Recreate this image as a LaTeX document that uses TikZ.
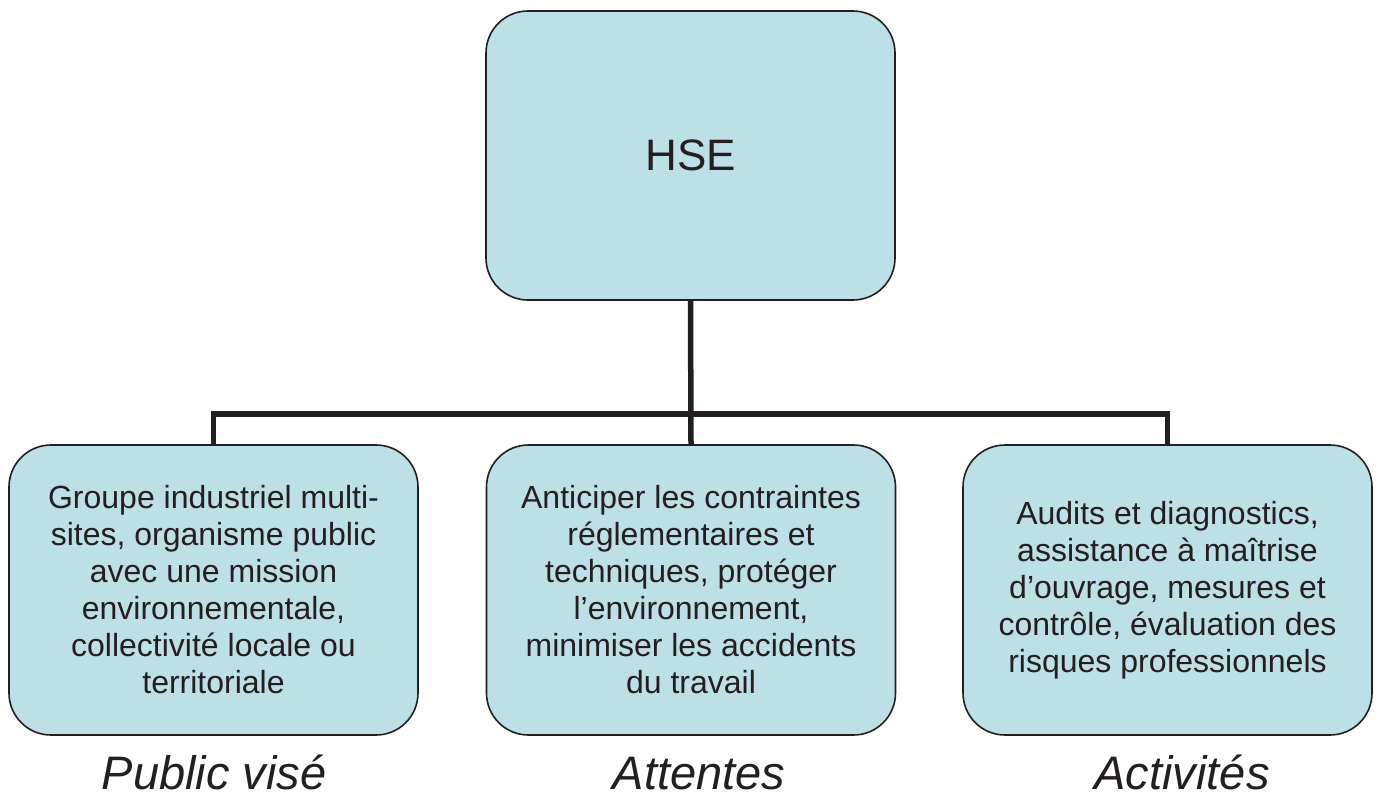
\documentclass[tikz,border=0pt]{standalone}
\usepackage{fontspec}
\setmainfont{Liberation Sans}
\definecolor{boxfill}{HTML}{BCE0E5}
\definecolor{ink}{HTML}{231F20}
\begin{document}
\begin{tikzpicture}[x=1pt,y=-1pt,
  box/.style={draw=ink, line width=1.6pt, fill=boxfill, rounded corners=42pt,
    minimum width=409pt, inner sep=0pt, align=center, text=ink,
    font=\fontsize{32}{37}\selectfont},
  conn/.style={draw=ink, line width=5.5pt, line join=miter},
  caption/.style={text=ink, font=\fontsize{47}{50}\selectfont\itshape, anchor=base,
    inner sep=0pt, text depth=0pt}]
\useasboundingbox (0,0) rectangle (1380,800);
\node[box, minimum height=289pt, font=\fontsize{44}{50}\selectfont] (T) at (690.5,155.5) {HSE};
\node[box, minimum height=290pt] (L) at (213.5,590) {Groupe industriel multi-\\sites, organisme public\\avec une mission\\environnementale,\\collectivité locale ou\\territoriale};
\node[box, minimum height=290pt] (M) at (691,590) {Anticiper les contraintes\\réglementaires et\\techniques, protéger\\l’environnement,\\minimiser les accidents\\du travail};
\node[box, minimum height=290pt] (R) at (1167.5,590) {Audits et diagnostics,\\assistance à maîtrise\\d’ouvrage, mesures et\\contrôle, évaluation des\\risques professionnels};
\coordinate (J) at (691,414);
\draw[conn] (L.north) |- (J) -| (R.north);
\draw[conn] (T.south) -- (M.north);
\node[caption] (CL) at (214,789) {Public visé};
\node[caption] (CM) at (699,789) {Attentes};
\node[caption] (CR) at (1182,789) {Activités};
\end{tikzpicture}
\end{document}
